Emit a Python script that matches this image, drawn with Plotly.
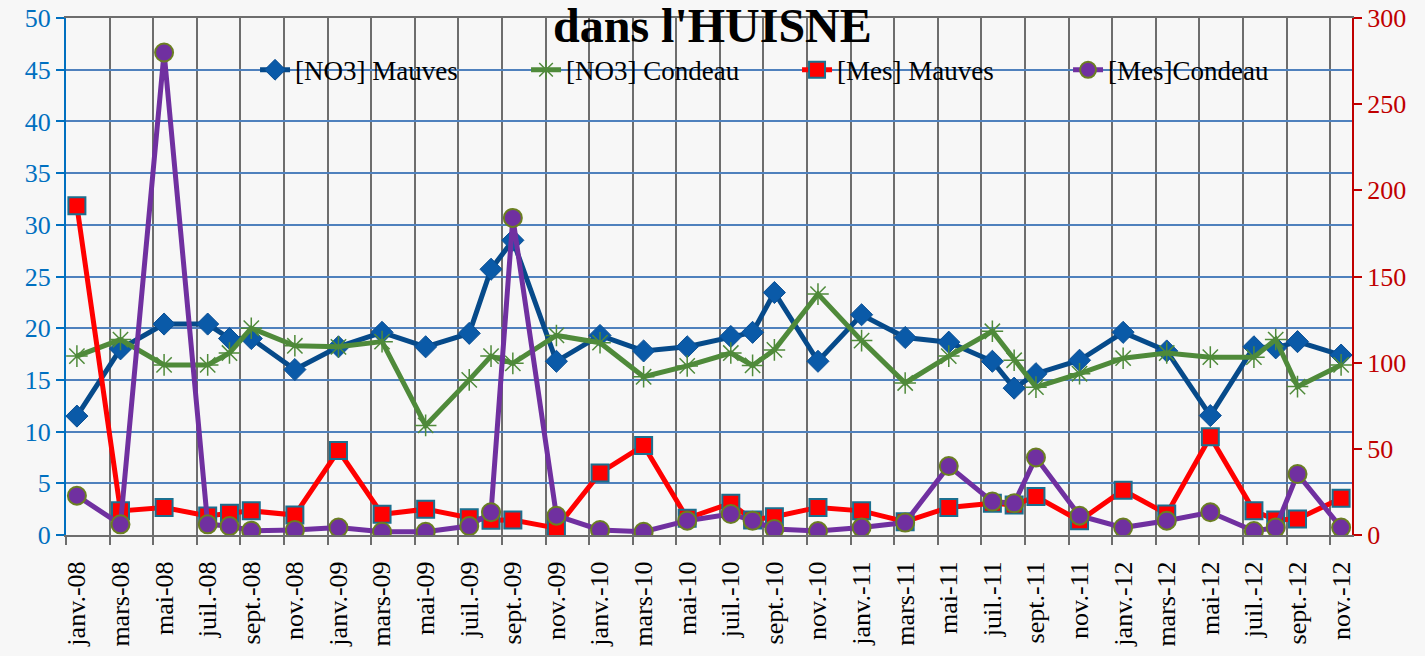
import plotly.graph_objects as go

# ---- data ----
dates = ["2008-01", "2008-03", "2008-05", "2008-07", "2008-08", "2008-09", "2008-11",
         "2009-01", "2009-03", "2009-05", "2009-07", "2009-08", "2009-09", "2009-11",
         "2010-01", "2010-03", "2010-05", "2010-07", "2010-08", "2010-09", "2010-11",
         "2011-01", "2011-03", "2011-05", "2011-07", "2011-08", "2011-09", "2011-11",
         "2012-01", "2012-03", "2012-05", "2012-07", "2012-08", "2012-09", "2012-11"]

no3_mauves = [11.5, 18.0, 20.4, 20.4, 19.0, 19.0, 16.0,
              18.2, 19.6, 18.2, 19.5, 25.7, 28.5, 16.8,
              19.3, 17.8, 18.2, 19.2, 19.6, 23.45, 16.8,
              21.3, 19.1, 18.65, 16.8, 14.2, 15.6, 16.9,
              19.6, 17.8, 11.55, 18.2, 18.1, 18.7, 17.4]

no3_condeau = [17.3, 18.9, 16.45, 16.45, 17.6, 20.0, 18.3,
               18.2, 18.7, 10.6, 15.0, 17.3, 16.6, 19.3,
               18.6, 15.3, 16.35, 17.6, 16.4, 17.9, 23.3,
               18.8, 14.7, 17.3, 19.7, 16.9, 14.3, 15.6,
               17.1, 17.6, 17.2, 17.2, 18.9, 14.35, 16.45]

mes_mauves = [191, 14, 16, 11, 12.6, 14, 11.6,
              49, 12, 15, 10, 8.5, 8.7, 4,
              36, 52, 9.7, 18.4, 8.7, 10.6, 16,
              14, 7.7, 16, 18.4, 17.4, 22.3, 8.3,
              26, 12.2, 57, 14, 8.7, 9.3, 21.3]

mes_condeau = [22.8, 6.2, 280, 6.2, 5.2, 2.5, 2.9,
               4.3, 1.9, 1.9, 5.2, 13.2, 184, 11.2,
               2.9, 1.9, 8.3, 12.2, 8.3, 3.5, 2.3,
               4.3, 7.2, 40, 19.4, 18.4, 45, 11.2,
               4.3, 8.3, 13.2, 2.3, 4.3, 35.4, 4.3]

tick_labels = ["janv.-08", "mars-08", "mai-08", "juil.-08", "sept.-08", "nov.-08",
               "janv.-09", "mars-09", "mai-09", "juil.-09", "sept.-09", "nov.-09",
               "janv.-10", "mars-10", "mai-10", "juil.-10", "sept.-10", "nov.-10",
               "janv.-11", "mars-11", "mai-11", "juil.-11", "sept.-11", "nov.-11",
               "janv.-12", "mars-12", "mai-12", "juil.-12", "sept.-12", "nov.-12"]

# month index since January 2008 (Excel date axis with monthly base unit)
def month_index(s):
    y, m = s.split("-")
    return (int(y) - 2008) * 12 + int(m) - 1

x = [month_index(d) for d in dates]
n_months = 59
tick_pos = [2 * i for i in range(len(tick_labels))]

FONT = "Liberation Serif"

fig = go.Figure()
fig.add_trace(go.Scatter(
    x=x, y=no3_mauves, name="[NO3] Mauves", mode="lines+markers",
    line=dict(color="#064a8a", width=5),
    marker=dict(symbol="diamond", size=17, color="#0a5aa8",
                line=dict(color="#0a4f94", width=1))))
fig.add_trace(go.Scatter(
    x=x, y=no3_condeau, name="[NO3] Condeau", mode="lines+markers",
    line=dict(color="#4f8a3a", width=5),
    marker=dict(symbol="asterisk-open", size=18, color="#4f8a3a",
                line=dict(color="#4f8a3a", width=1.5))))
fig.add_trace(go.Scatter(
    x=x, y=mes_mauves, name="[Mes] Mauves", mode="lines+markers", yaxis="y2",
    line=dict(color="#ff0000", width=5),
    marker=dict(symbol="square", size=17, color="#ff0000",
                line=dict(color="#1b6f8f", width=2))))
fig.add_trace(go.Scatter(
    x=x, y=mes_condeau, name="[Mes]Condeau", mode="lines+markers", yaxis="y2",
    line=dict(color="#7030a0", width=5),
    marker=dict(symbol="circle", size=18, color="#7030a0",
                line=dict(color="#6b7f22", width=2))))

fig.update_layout(
    width=1425, height=656,
    margin=dict(l=66, r=73, t=18, b=121, autoexpand=False),
    paper_bgcolor="#f7f7f7", plot_bgcolor="#f7f7f7",
    font=dict(family=FONT, size=26, color="#000000"),
    showlegend=True,
    legend=dict(orientation="h", x=0.147, xanchor="left", y=0.899, yanchor="middle",
                bgcolor="rgba(0,0,0,0)", font=dict(family=FONT, size=27, color="#000"),
                entrywidth=226, entrywidthmode="pixels"),
    xaxis=dict(
        range=[-0.5, n_months - 0.5], tickmode="array", tickvals=tick_pos,
        ticktext=tick_labels, tickangle=-90, ticks="", showgrid=False,
        ticklabelstandoff=14, automargin=False,
        tickfont=dict(family=FONT, size=26, color="#000"),
        showline=True, linecolor="#6d6d6d", linewidth=2, mirror=True,
        zeroline=False,
        minor=dict(tickmode="linear", tick0=-0.5, dtick=2, showgrid=True,
                   gridcolor="#6d6d6d", gridwidth=2, ticks="outside",
                   ticklen=8, tickcolor="#6d6d6d", tickwidth=2),
    ),
    yaxis=dict(
        range=[0, 50], dtick=5, showgrid=True, gridcolor="#4f81bd", gridwidth=1.5,
        zeroline=False, showline=True, linecolor="#0070c0", linewidth=2,
        ticks="outside", ticklen=8, tickcolor="#0070c0", tickwidth=2,
        automargin=False,
        tickfont=dict(family=FONT, size=26, color="#0070c0"),
    ),
    yaxis2=dict(
        range=[0, 300], dtick=50, overlaying="y", side="right", showgrid=False,
        zeroline=False, showline=True, linecolor="#c00000", linewidth=2,
        ticks="outside", ticklen=8, tickcolor="#c00000", tickwidth=2,
        automargin=False,
        tickfont=dict(family=FONT, size=26, color="#c00000"),
    ),
    annotations=[dict(text="<b>dans l'HUISNE</b>", xref="paper", yref="paper",
                      x=0.503, y=0.985, xanchor="center", yanchor="middle",
                      showarrow=False, font=dict(family=FONT, size=48, color="#000"))],
)

fig.write_html("out.html", config={"displayModeBar": False},
               post_script="document.body.style.margin='0';")
